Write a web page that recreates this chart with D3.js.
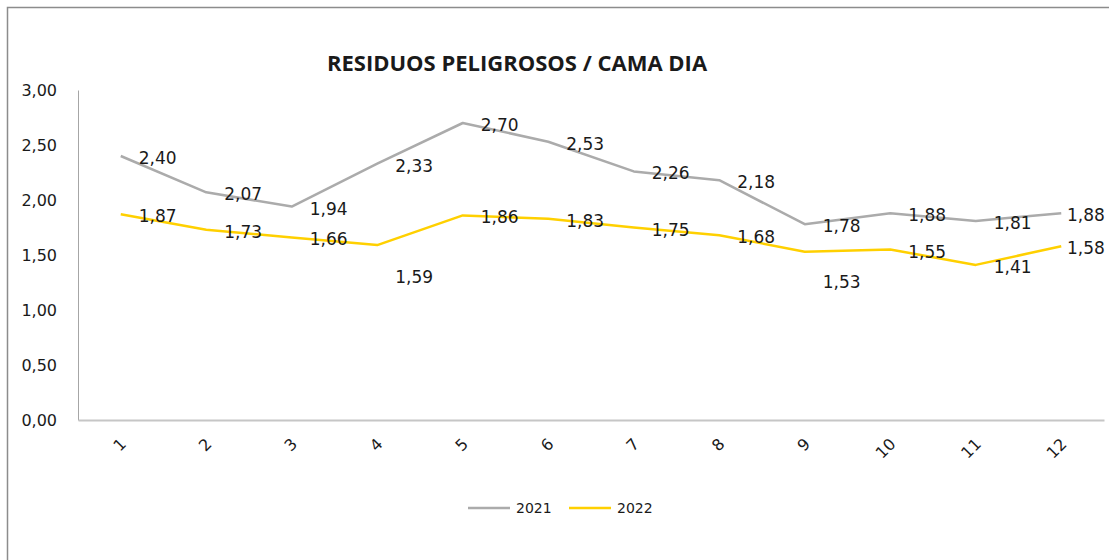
<!DOCTYPE html>
<html>
<head>
<meta charset="utf-8">
<script src="https://cdn.jsdelivr.net/npm/d3@7"></script>
<style>
  body { margin: 0; background: #fff; }
  text { font-family: "DejaVu Sans", sans-serif; fill: #1a1a1a; }
</style>
</head>
<body>
<div id="chart"></div>
<script>
// data
var months = ["1", "2", "3", "4", "5", "6", "7", "8", "9", "10", "11", "12"];
var values2021 = [2.40, 2.07, 1.94, 2.33, 2.70, 2.53, 2.26, 2.18, 1.78, 1.88, 1.81, 1.88];
var values2022 = [1.87, 1.73, 1.66, 1.59, 1.86, 1.83, 1.75, 1.68, 1.53, 1.55, 1.41, 1.58];
var yTicks = [0, 0.5, 1, 1.5, 2, 2.5, 3];

var svgWidth = 1109;
var svgHeight = 560;

var chartMargin = {
    top: 90,
    right: 5,
    bottom: 140,
    left: 78
}

var chartWidth = svgWidth - chartMargin.left - chartMargin.right;
var chartHeight = svgHeight - chartMargin.top - chartMargin.bottom;

var series = [
    {name: "2021", values: values2021, color: "#ababab"},
    {name: "2022", values: values2022, color: "#ffd000"}
];

// some labels in the original were pushed down by hand
var labelNudge = {"2022-3": 30, "2022-8": 28};

var fmt = function(v) { return d3.format(".2f")(v).replace(".", ","); };

var svg = d3.select("#chart")
            .append("svg")
            .attr("width", svgWidth)
            .attr("height", svgHeight);

// outer chart frame (only top and left visible in the crop)
svg.append("path")
    .attr("d", "M7.5," + svgHeight + "V7.5H" + svgWidth)
    .attr("fill", "none")
    .attr("stroke", "#8c8c8c")
    .attr("stroke-width", 1.5);

svg.append("text")
    .attr("x", 517)
    .attr("y", 71)
    .attr("text-anchor", "middle")
    .style("font-family", "'Open Sans', sans-serif")
    .style("font-weight", "bold")
    .style("font-size", "22px")
    .text("RESIDUOS PELIGROSOS / CAMA DIA");

var chartGroup = svg.append("g")
                    .attr("transform", `translate(${chartMargin.left}, ${chartMargin.top})`);

var xScale = d3.scalePoint()
                .domain(months)
                .range([0, chartWidth])
                .padding(0.5);

var yScale = d3.scaleLinear()
                .domain([0, 3])
                .range([chartHeight, 0]);

var yAxis = d3.axisLeft(yScale).tickValues(yTicks).tickFormat(fmt).tickSize(0).tickPadding(21);
var xAxis = d3.axisBottom(xScale).tickSize(0);

var yG = chartGroup.append("g").call(yAxis);
yG.select(".domain").attr("stroke", "#a6a6a6").attr("stroke-width", 1);
yG.selectAll("text").style("font-size", "16px").style("font-family", "'DejaVu Sans', sans-serif").attr("fill", "#1a1a1a");

var xG = chartGroup.append("g")
            .attr("transform", `translate(0, ${chartHeight})`)
            .call(xAxis);
xG.select(".domain").attr("stroke", "#c6c6c6").attr("stroke-width", 2);
xG.selectAll("text")
    .style("font-size", "16px")
    .style("font-family", "'DejaVu Sans', sans-serif")
    .attr("fill", "#1a1a1a")
    .attr("text-anchor", "end")
    .attr("dy", null)
    .attr("y", 0)
    .attr("transform", "translate(6, 25) rotate(-45)");

var line = d3.line()
    .x(function(d, i) { return xScale(months[i]); })
    .y(function(d) { return yScale(d); });

series.forEach(function(s) {
    chartGroup.append("path")
        .datum(s.values)
        .attr("fill", "none")
        .attr("stroke", s.color)
        .attr("stroke-width", 2.5)
        .attr("stroke-linejoin", "round")
        .attr("d", line);
});

series.forEach(function(s) {
    chartGroup.selectAll(null)
        .data(s.values)
        .enter()
        .append("text")
        .attr("x", function(d, i) {
            var x = xScale(months[i]) + 18;
            return Math.min(x, chartWidth - 37);
        })
        .attr("y", function(d, i) {
            return yScale(d) + 8 + (labelNudge[s.name + "-" + i] || 0);
        })
        .style("font-size", "17px")
        .text(fmt);
});

// legend
var legend = svg.append("g").attr("transform", "translate(468, 508)");
series.forEach(function(s, i) {
    var g = legend.append("g").attr("transform", `translate(${i * 101}, 0)`);
    g.append("line")
        .attr("x1", 0).attr("x2", 42)
        .attr("stroke", s.color)
        .attr("stroke-width", 2.5);
    g.append("text")
        .attr("x", 48)
        .attr("y", 5)
        .style("font-size", "14px")
        .text(s.name);
});
</script>
</body>
</html>
